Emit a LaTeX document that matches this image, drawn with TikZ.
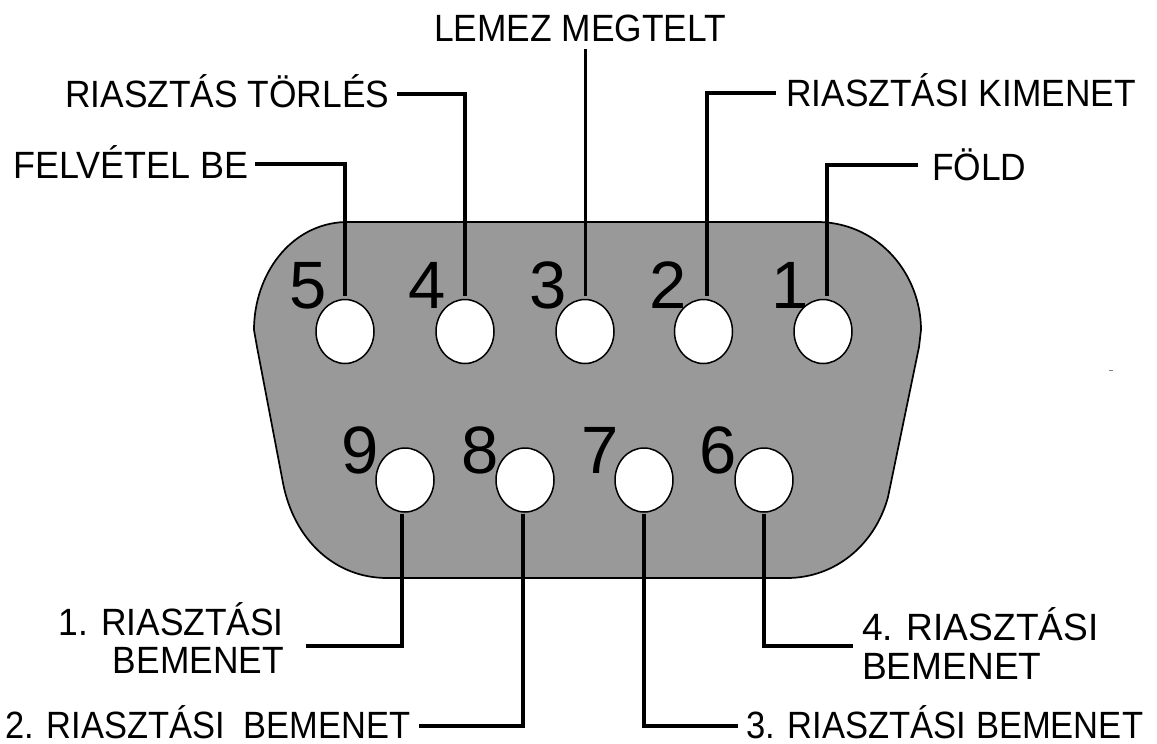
\documentclass[tikz,border=0pt]{standalone}
\usepackage{fontspec}
\usepackage{graphicx}
\usetikzlibrary{shapes.geometric}
\setmainfont[FakeStretch=0.93]{Liberation Sans}
\newfontfamily\digitfont{Liberation Sans}
\definecolor{shell}{HTML}{999999}
\tikzset{
 pin/.style={ellipse,draw=black,line width=1.5pt,fill=white,minimum width=58pt,minimum height=64pt,inner sep=0pt},
 lab/.style={font=\fontsize{38}{42}\selectfont,inner sep=0pt,anchor=base west,text=black},
 labr/.style={lab,anchor=base east},
 num/.style={font=\digitfont\fontsize{67}{67}\selectfont,inner sep=0pt,anchor=base,text=black},
 wire/.style={line width=3.2pt,draw=black}
}
\begin{document}
\begin{tikzpicture}[x=1pt,y=-1pt]
\useasboundingbox (0,0) rectangle (1157,744);
\fill[white] (0,0) rectangle (1157,744);
\draw[line width=1.7pt,fill=shell] (345,222) -- (820,222)
  .. controls (880,224) and (921,275) .. (921,330)
  -- (919,347) -- (888,497)
  .. controls (875,545) and (835,578) .. (787,578)
  -- (387,578)
  .. controls (335,578) and (294,540) .. (283,483)
  -- (257,347) -- (254,330)
  .. controls (254,275) and (290,224) .. (345,222) -- cycle;
\foreach \n/\x/\y/\t in {n5/308/308/5,n4/427/308/4,n3/548/308/3,n2/668/308/2,n1/790/308/1,n9/360/473/9,n8/480/473/8,n7/600/473/7,n6/718/473/6}
  \node[num] (\n) at (\x,\y) {\t};
\foreach \n/\x/\y in {p5/345/331.5,p4/465/331.5,p3/585/331.5,p2/703.5/331.5,p1/823/331.5,p9/405/480,p8/525/480,p7/644/480,p6/764/480}
  \node[pin] (\n) at (\x,\y) {};
\node[lab] (t3) at (434,41) {LEMEZ MEGTELT};
\node[lab] (t4) at (65,107) {RIASZTÁS TÖRLÉS};
\node[lab] (t2) at (786,106) {RIASZTÁSI KIMENET};
\node[lab] (t5) at (13,178) {\scalebox{1.017}[1]{FELVÉTEL BE}};
\node[lab] (t1) at (932,180) {FÖLD};
\node[labr] (t9a) at (284,635) {1. RIASZTÁSI};
\node[labr] (t9b) at (284,673) {BEMENET};
\node[lab] (t6a) at (862,640) {\scalebox{1.05}[1]{4. RIASZTÁSI}};
\node[lab] (t6b) at (862,679) {\scalebox{1.05}[1]{BEMENET}};
\node[lab] (t8) at (5,738) {\scalebox{0.975}[1]{2. RIASZTÁSI\ \ BEMENET}};
\node[lab] (t7) at (746,738) {\scalebox{0.978}[1]{3. RIASZTÁSI BEMENET}};
\coordinate (c3) at (585.5,49);
\coordinate (c5) at (345,164);
\coordinate (c4) at (465,94);
\coordinate (c2) at (707,93);
\coordinate (c1) at (827,165);
\coordinate (c9) at (402,646);
\coordinate (c8) at (523,726);
\coordinate (c7) at (644,726);
\coordinate (c6) at (764,646);
\draw[wire] (c3) -- ([yshift=3pt]c3 |- p3.north);
\draw[wire] ([xshift=8pt]t4.east |- c4) -- (c4) -- ([yshift=3pt]c4 |- p4.north);
\draw[wire] ([xshift=-10pt]t2.west |- c2) -- (c2) -- ([yshift=3pt]c2 |- p2.north);
\draw[wire] ([xshift=7pt]t5.east |- c5) -- (c5) -- ([yshift=3pt]c5 |- p5.north);
\draw[wire] ([xshift=-14pt]t1.west |- c1) -- (c1) -- ([yshift=3pt]c1 |- p1.north);
\draw[wire] ([yshift=-1pt]c9 |- p9.south) -- (c9) -- ([xshift=22pt]t9a.east |- c9);
\draw[wire] ([yshift=-1pt]c8 |- p8.south) -- (c8) -- ([xshift=8pt]t8.east |- c8);
\draw[wire] ([yshift=-1pt]c7 |- p7.south) -- (c7) -- ([xshift=-8pt]t7.west |- c7);
\draw[wire] ([yshift=-1pt]c6 |- p6.south) -- (c6) -- ([xshift=-9pt]t6a.west |- c6);
\fill[gray] (1109,369.5) rectangle (1113,371);
\end{tikzpicture}
\end{document}
